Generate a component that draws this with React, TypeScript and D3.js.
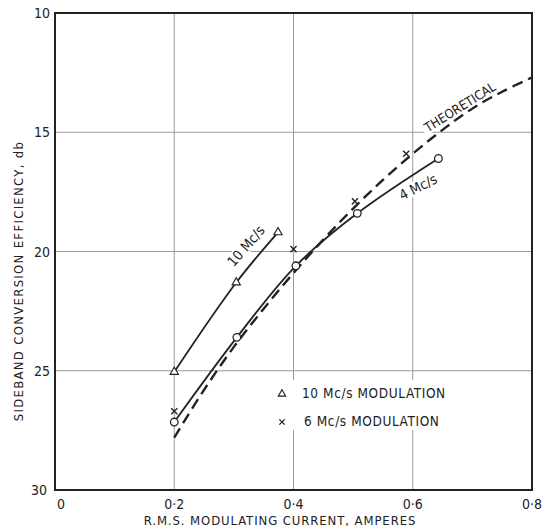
import React, { useEffect, useRef } from 'react';
import * as d3 from 'd3';

// values
const xTicks = [0, 0.2, 0.4, 0.6, 0.8];
const xTickLabels = ['0', '0·2', '0·4', '0·6', '0·8'];
const yTicks = [10, 15, 20, 25, 30];

const theoreticalX = [0.2, 0.25, 0.3, 0.35, 0.4, 0.45, 0.5, 0.55, 0.6, 0.65, 0.7, 0.75, 0.8];
const theoreticalY = [27.8, 25.8, 24.0, 22.4, 20.9, 19.5, 18.2, 17.0, 15.9, 14.9, 14.0, 13.3, 12.7];

const fourMcX = [0.2, 0.305, 0.404, 0.507, 0.643];
const fourMcY = [27.15, 23.6, 20.6, 18.4, 16.1];

const tenMcX = [0.2, 0.304, 0.374];
const tenMcY = [25.05, 21.3, 19.2];

const sixMcX = [0.2, 0.4, 0.503, 0.589];
const sixMcY = [26.7, 19.9, 17.9, 15.9];

const FONT = "'DejaVu Sans Condensed', 'DejaVu Sans', sans-serif";

export default function App() {
  const ref = useRef<SVGSVGElement>(null);

  useEffect(() => {
    const svg = d3.select(ref.current);
    svg.selectAll('*').remove();

    const x = d3.scaleLinear().domain([0, 0.8]).range([55, 532]);
    const y = d3.scaleLinear().domain([10, 30]).range([13, 490]);

    const ink = '#222';
    const zip = (xs: number[], ys: number[]) => xs.map((v, i) => [v, ys[i]] as [number, number]);

    // grid
    const grid = svg.append('g').attr('stroke', '#9a9a9a').attr('stroke-width', 1);
    xTicks.slice(1, -1).forEach(t => {
      grid.append('line').attr('x1', x(t)).attr('x2', x(t)).attr('y1', y(10)).attr('y2', y(30));
    });
    yTicks.slice(1, -1).forEach(t => {
      grid.append('line').attr('x1', x(0)).attr('x2', x(0.8)).attr('y1', y(t)).attr('y2', y(t));
    });

    // frame
    svg.append('rect')
      .attr('x', x(0)).attr('y', y(10))
      .attr('width', x(0.8) - x(0)).attr('height', y(30) - y(10))
      .attr('fill', 'none').attr('stroke', ink).attr('stroke-width', 2);

    // tick labels
    svg.append('g').selectAll('text').data(yTicks).join('text')
      .attr('x', (d, i) => (i === yTicks.length - 1 ? 47 : 50))
      .attr('y', d => y(d) + 5)
      .attr('text-anchor', 'end')
      .attr('font-family', FONT).attr('font-size', 14).attr('fill', ink)
      .text(d => d);

    svg.append('g').selectAll('text').data(xTicks).join('text')
      .attr('x', (d, i) => x(d) + (i === 0 ? 6 : 0))
      .attr('y', 509)
      .attr('text-anchor', 'middle')
      .attr('font-family', FONT).attr('font-size', 14).attr('fill', ink)
      .text((d, i) => xTickLabels[i]);

    // axis titles
    svg.append('text')
      .attr('transform', 'translate(23,281) rotate(-90)')
      .attr('text-anchor', 'middle')
      .attr('font-family', FONT).attr('font-size', 13).attr('letter-spacing', 1.3).attr('fill', ink)
      .text('SIDEBAND CONVERSION EFFICIENCY, db');

    svg.append('text')
      .attr('x', 280).attr('y', 525)
      .attr('text-anchor', 'middle')
      .attr('font-family', FONT).attr('font-size', 13).attr('letter-spacing', 0.9).attr('fill', ink)
      .text('R.M.S. MODULATING CURRENT, AMPERES');

    const line = d3.line<[number, number]>()
      .x(d => x(d[0])).y(d => y(d[1]))
      .curve(d3.curveCatmullRom);

    // curves
    svg.append('path').datum(zip(theoreticalX, theoreticalY))
      .attr('d', line).attr('fill', 'none').attr('stroke', ink)
      .attr('stroke-width', 2.4).attr('stroke-dasharray', '11,6');

    svg.append('path').datum(zip(fourMcX, fourMcY))
      .attr('d', line).attr('fill', 'none').attr('stroke', ink).attr('stroke-width', 1.8);

    svg.append('path').datum(zip(tenMcX, tenMcY))
      .attr('d', line).attr('fill', 'none').attr('stroke', ink).attr('stroke-width', 1.8);

    // curve labels with paper-coloured backing
    const label = (txt: string, cx: number, cy: number, angle: number, size: number) => {
      const g = svg.append('g').attr('transform', `translate(${cx},${cy}) rotate(${angle})`);
      const t = g.append('text')
        .attr('text-anchor', 'middle').attr('dy', '0.35em')
        .attr('font-family', FONT).attr('font-size', size).attr('fill', ink)
        .text(txt);
      const b = (t.node() as SVGTextElement).getBBox();
      g.insert('rect', 'text')
        .attr('x', b.x - 2).attr('y', b.y + 1).attr('width', b.width + 4).attr('height', b.height - 2)
        .attr('fill', 'white');
    };
    label('10 Mc/s', 246, 246, -49, 14);
    label('THEORETICAL', 460, 107, -32, 13);
    label('4 Mc/s', 418, 187, -27, 14);

    // markers
    svg.append('g').selectAll('circle').data(zip(fourMcX, fourMcY)).join('circle')
      .attr('cx', d => x(d[0])).attr('cy', d => y(d[1])).attr('r', 3.8)
      .attr('fill', 'white').attr('stroke', ink).attr('stroke-width', 1.3);

    const tri = d3.symbol().type(d3.symbolTriangle).size(30);
    svg.append('g').selectAll('path').data(zip(tenMcX, tenMcY)).join('path')
      .attr('transform', d => `translate(${x(d[0])},${y(d[1])})`)
      .attr('d', tri).attr('fill', 'white').attr('stroke', ink).attr('stroke-width', 1.1);

    const cross = d3.symbol().type(d3.symbolX).size(26);
    svg.append('g').selectAll('path').data(zip(sixMcX, sixMcY)).join('path')
      .attr('transform', d => `translate(${x(d[0])},${y(d[1])})`)
      .attr('d', cross).attr('fill', 'none').attr('stroke', ink).attr('stroke-width', 1.4);

    // legend
    svg.append('rect').attr('x', 274).attr('y', 380).attr('width', 182).attr('height', 50).attr('fill', 'white');
    svg.append('path').attr('transform', 'translate(282,394)').attr('d', d3.symbol().type(d3.symbolTriangle).size(24))
      .attr('fill', 'white').attr('stroke', ink).attr('stroke-width', 1.1);
    svg.append('path').attr('transform', 'translate(282,422)').attr('d', d3.symbol().type(d3.symbolX).size(20))
      .attr('fill', 'none').attr('stroke', ink).attr('stroke-width', 1.3);
    svg.append('text').attr('x', 302).attr('y', 398)
      .attr('font-family', FONT).attr('font-size', 13.5).attr('letter-spacing', 0.6).attr('fill', ink)
      .text('10 Mc/s  MODULATION');
    svg.append('text').attr('x', 304).attr('y', 426)
      .attr('font-family', FONT).attr('font-size', 13.5).attr('letter-spacing', 0.6).attr('fill', ink)
      .text('6 Mc/s  MODULATION');
  }, []);

  return (
    <svg ref={ref} width={558} height={531}
         style={{ position: 'absolute', left: 0, top: 0, background: 'white' }} />
  );
}
